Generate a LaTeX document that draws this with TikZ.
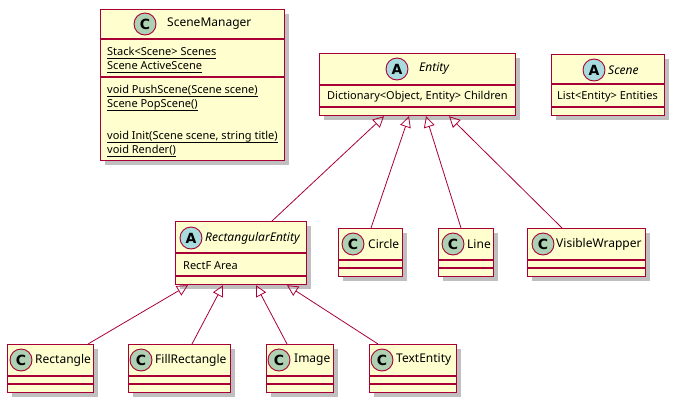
\documentclass[tikz,border=0pt]{standalone}
\usepackage{fontspec}
\setmainfont{Noto Sans}
\newfontfamily\iconfont{DejaVu Sans}
\usetikzlibrary{arrows.meta,shadows}
\definecolor{umlred}{HTML}{A80036}
\definecolor{umlfill}{HTML}{FEFECE}
\definecolor{cgreen}{HTML}{ADD1B2}
\definecolor{ablue}{HTML}{A9DCDF}
\newcommand\ulmember[1]{\underline{\raisebox{0pt}[\height][1.6pt]{#1}}}
\tikzset{
  classbox/.style={draw=umlred, fill=umlfill, line width=1.2pt, inner sep=0pt, anchor=north west,
    drop shadow={shadow xshift=4pt, shadow yshift=-4pt, fill=black, opacity=0.25}},
  sepline/.style={draw=umlred, line width=1.2pt},
  iconC/.style={circle, draw=umlred, fill=cgreen, line width=0.9pt, minimum size=22pt, inner sep=0pt,
    font=\iconfont\fontsize{14}{14}\selectfont\bfseries},
  iconA/.style={iconC, fill=ablue},
  title/.style={anchor=west, inner sep=0pt, font=\fontsize{12}{14}\selectfont},
  atitle/.style={title, font=\fontsize{12}{14}\selectfont\itshape},
  member/.style={anchor=west, inner sep=0pt, font=\fontsize{11}{13}\selectfont},
  inherit/.style={draw=umlred, line width=0.8pt, -{Triangle[open, length=11pt, width=11pt]}},
}
\begin{document}
\begin{tikzpicture}[x=1pt, y=-1pt]
\useasboundingbox (0,0) rectangle (674,402);
% SceneManager
\node[classbox, minimum width=184pt, minimum height=151pt] (sm) at (100,9) {};
\draw[sepline] (100,39) -- (284,39);
\draw[sepline] (100,77) -- (284,77);
\node[iconC] (smi) at (145,24) {C};
\node[title] (smt) at (167,24) {SceneManager};
\node[member] (sm1) at (107,53) {\ulmember{Stack<Scene> Scenes}};
\node[member] (sm2) at (107,67) {\ulmember{Scene ActiveScene}};
\node[member] (sm3) at (107,91) {\ulmember{void PushScene(Scene scene)}};
\node[member] (sm4) at (107,105) {\ulmember{Scene PopScene()}};
\node[member] (sm5) at (107,137) {\ulmember{void Init(Scene scene, string title)}};
\node[member] (sm6) at (107,151) {\ulmember{void Render()}};
% Entity
\node[classbox, minimum width=196pt, minimum height=62pt] (ent) at (319,53) {};
\draw[sepline] (319,85) -- (515,85);
\draw[sepline] (319,107) -- (515,107);
\node[iconA] (enti) at (397,69) {A};
\node[atitle] (entt) at (419,69) {Entity};
\node[member] (ent1) at (327,97) {Dictionary<Object, Entity> Children};
% Scene
\node[classbox, minimum width=113pt, minimum height=61pt] (scn) at (551,54) {};
\draw[sepline] (551,84) -- (664,84);
\draw[sepline] (551,107) -- (664,107);
\node[iconA] (scni) at (594,70) {A};
\node[atitle] (scnt) at (608,70) {Scene};
\node[member] (scn1) at (557,97) {List<Entity> Entities};
% RectangularEntity
\node[classbox, minimum width=131pt, minimum height=63pt] (re) at (175,221) {};
\draw[sepline] (175,253) -- (306,253);
\draw[sepline] (175,276) -- (306,276);
\node[iconA] (rei) at (191,238) {A};
\node[atitle] (ret) at (205,238) {RectangularEntity};
\node[member] (re1) at (183,266) {RectF Area};
% Circle
\node[classbox, minimum width=64pt, minimum height=48pt] (cir) at (338,228) {};
\draw[sepline] (338,260) -- (402,260);
\draw[sepline] (338,268) -- (402,268);
\node[iconC] (ciri) at (353,244) {C};
\node[title] (cirt) at (368,244) {Circle};
% Line
\node[classbox, minimum width=55pt, minimum height=48pt] (lin) at (438,228) {};
\draw[sepline] (438,260) -- (493,260);
\draw[sepline] (438,268) -- (493,268);
\node[iconC] (lini) at (453,244) {C};
\node[title] (lint) at (467,244) {Line};
% VisibleWrapper
\node[classbox, minimum width=118pt, minimum height=48pt] (vw) at (527,228) {};
\draw[sepline] (527,260) -- (645,260);
\draw[sepline] (527,268) -- (645,268);
\node[iconC] (vwi) at (543,244) {C};
\node[title] (vwt) at (556,244) {VisibleWrapper};
% Rectangle
\node[classbox, minimum width=86pt, minimum height=48pt] (rect) at (7,344) {};
\draw[sepline] (7,376) -- (93,376);
\draw[sepline] (7,384) -- (93,384);
\node[iconC] (recti) at (21,360) {C};
\node[title] (rectt) at (35,360) {Rectangle};
% FillRectangle
\node[classbox, minimum width=102pt, minimum height=48pt] (fr) at (128,344) {};
\draw[sepline] (128,376) -- (230,376);
\draw[sepline] (128,384) -- (230,384);
\node[iconC] (fri) at (141,360) {C};
\node[title] (frt) at (155,360) {FillRectangle};
% Image
\node[classbox, minimum width=67pt, minimum height=48pt] (img) at (266,344) {};
\draw[sepline] (266,376) -- (333,376);
\draw[sepline] (266,384) -- (333,384);
\node[iconC] (imgi) at (279,360) {C};
\node[title] (imgt) at (294,360) {Image};
% TextEntity
\node[classbox, minimum width=87pt, minimum height=48pt] (te) at (369,344) {};
\draw[sepline] (369,376) -- (456,376);
\draw[sepline] (369,384) -- (456,384);
\node[iconC] (tei) at (382,360) {C};
\node[title] (tet) at (396,360) {TextEntity};
% Inheritance edges
\draw[inherit] ([xshift=97pt]re.north west) -- ([xshift=65pt]ent.south west);
\draw[inherit] ([xshift=33pt]cir.north west) -- ([xshift=90pt]ent.south west);
\draw[inherit] ([xshift=23pt]lin.north west) -- ([xshift=107pt]ent.south west);
\draw[inherit] ([xshift=35pt]vw.north west) -- ([xshift=130pt]ent.south west);
\draw[inherit] ([xshift=81pt]rect.north west) -- ([xshift=13pt]re.south west);
\draw[inherit] ([xshift=64pt]fr.north west) -- ([xshift=48pt]re.south west);
\draw[inherit] ([xshift=21pt]img.north west) -- ([xshift=81pt]re.south west);
\draw[inherit] ([xshift=9pt]te.north west) -- ([xshift=112pt]re.south west);
\end{tikzpicture}
\end{document}
